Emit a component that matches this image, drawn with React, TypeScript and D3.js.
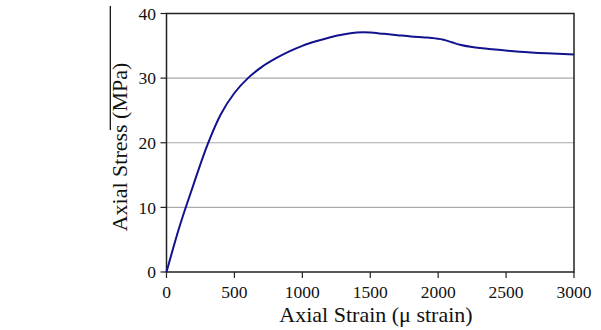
import React from "react";
import * as d3 from "d3";

const strain = [0, 100, 200, 300, 400, 500, 600, 700, 800, 900, 1000, 1100, 1200, 1300, 1400, 1450, 1500, 1600, 1700, 1800, 1900, 1980, 2040, 2100, 2160, 2250, 2400, 2600, 2800, 3000];
const stress = [0, 7.3, 13.6, 19.6, 24.4, 27.7, 30.0, 31.7, 33.0, 34.1, 35.0, 35.7, 36.3, 36.75, 37.05, 37.1, 37.05, 36.85, 36.65, 36.45, 36.3, 36.15, 35.95, 35.55, 35.15, 34.8, 34.45, 34.1, 33.85, 33.65];
const xTicks = [0, 500, 1000, 1500, 2000, 2500, 3000];
const yTicks = [0, 10, 20, 30, 40];
const xTitle = "Axial Strain (\u03bc strain)";
const yTitle = "Axial Stress (MPa)";

export default function App() {
  const W = 601, H = 330;
  const left = 166.5, right = 574, top = 13.5, bottom = 272;
  const x = d3.scaleLinear().domain([0, 3000]).range([left, right]);
  const y = d3.scaleLinear().domain([0, 40]).range([bottom, top]);
  const pts = strain.map((s, i) => [s, stress[i]] as [number, number]);
  const line = d3.line<[number, number]>().x(d => x(d[0])).y(d => y(d[1])).curve(d3.curveCatmullRom.alpha(0.5));
  const font = "'Liberation Serif', 'Times New Roman', serif";
  return (
    <svg width={W} height={H} style={{ position: "absolute", left: 0, top: 0, background: "#fff" }}>
      <line x1={110.3} x2={110.3} y1={6} y2={130} stroke="#000" strokeWidth={1.2} />
      {yTicks.filter(t => t > 0 && t < 40).map(t => (
        <line key={"g" + t} x1={left} x2={right} y1={y(t)} y2={y(t)} stroke="#aaaaaa" strokeWidth={1.2} />
      ))}
      <rect x={left} y={top} width={right - left} height={bottom - top} fill="none" stroke="#222" strokeWidth={1.5} />
      {yTicks.map(t => (
        <g key={"y" + t}>
          <line x1={left - 6} x2={left} y1={y(t)} y2={y(t)} stroke="#222" strokeWidth={1.2} />
          <text x={156} y={y(t)} dy="0.35em" textAnchor="end" fontFamily={font} fontSize={17.5} fill="#111">{t}</text>
        </g>
      ))}
      {xTicks.map(t => (
        <g key={"x" + t}>
          <line x1={x(t)} x2={x(t)} y1={bottom} y2={bottom + 6} stroke="#222" strokeWidth={1.2} />
          <text x={x(t)} y={298} textAnchor="middle" fontFamily={font} fontSize={17.5} fill="#111">{t}</text>
        </g>
      ))}
      <path d={line(pts) || ""} fill="none" stroke="#12128f" strokeWidth={2} />
      <text x={376} y={321.5} textAnchor="middle" fontFamily={font} fontSize={22} fill="#111">{xTitle}</text>
      <text transform={`translate(127,147) rotate(-90)`} textAnchor="middle" fontFamily={font} fontSize={22} fill="#111">{yTitle}</text>
    </svg>
  );
}
